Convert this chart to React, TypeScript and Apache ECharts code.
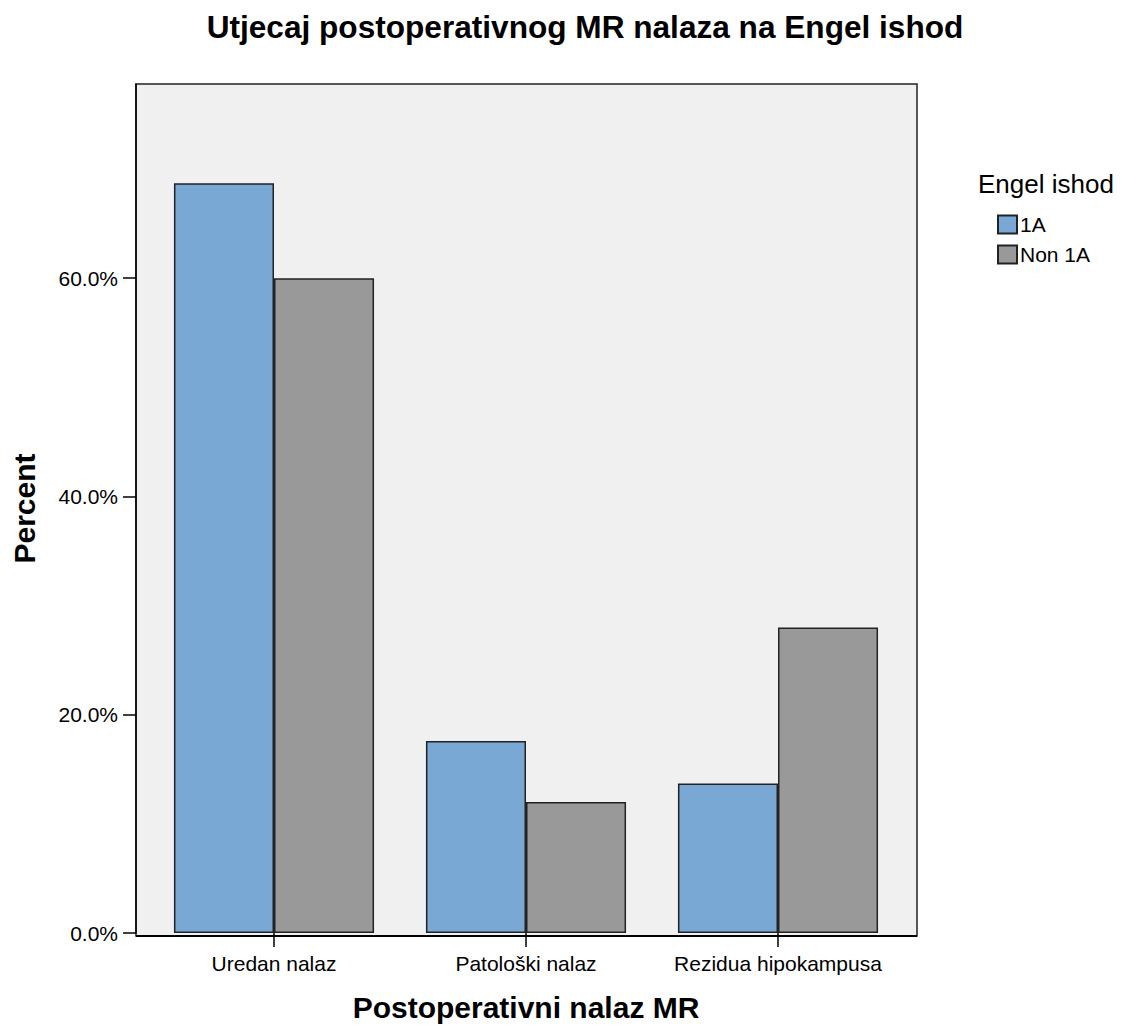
import React, { useEffect, useRef } from "react";
import * as echarts from "echarts";

const categories = ["Uredan nalaz", "Patološki nalaz", "Rezidua hipokampusa"];
const seriesNames = ["1A", "Non 1A"];
const values1A = [68.7, 17.6, 13.7];
const valuesNon1A = [60.0, 12.0, 28.0];
const yTicks = [0, 20, 40, 60];

const FONT = "Liberation Sans, Arial, sans-serif";

export default function App() {
  const ref = useRef<HTMLDivElement>(null);
  useEffect(() => {
    if (!ref.current) return;
    const chart = echarts.init(ref.current, undefined, { renderer: "svg" });
    chart.setOption({
      animation: false,
      backgroundColor: "#ffffff",
      textStyle: { fontFamily: FONT },
      title: {
        text: "Utjecaj postoperativnog MR nalaza na Engel ishod",
        left: 580,
        top: 6,
        textAlign: "center",
        textStyle: { fontSize: 31.6, fontWeight: "bold", color: "#000", fontFamily: FONT },
      },
      legend: {
        orient: "vertical",
        left: 997,
        top: 214,
        padding: 0,
        itemWidth: 19,
        itemHeight: 18,
        itemGap: 9,
        icon: "rect",
        textStyle: { fontSize: 21, color: "#000", fontFamily: FONT, padding: [0, 0, 0, -2] },
        data: seriesNames,
      },
      graphic: [
        {
          type: "rect",
          z: -1,
          shape: { x: 136, y: 84, width: 781, height: 852 },
          style: { fill: "#f0f0f0", stroke: "#222", lineWidth: 1.5 },
        },
        {
          type: "line",
          z: 10,
          shape: { x1: 136, y1: 936, x2: 917, y2: 936 },
          style: { stroke: "#000", lineWidth: 2 },
        },
        {
          type: "text",
          left: 978,
          top: 171,
          style: { text: "Engel ishod", fontSize: 26, fill: "#000", fontFamily: FONT },
        },
      ],
      grid: {
        left: 148,
        top: 84,
        width: 756,
        height: 852,
        show: false,
      },
      xAxis: {
        type: "category",
        data: categories,
        name: "Postoperativni nalaz MR",
        nameLocation: "middle",
        nameGap: 59,
        nameTextStyle: { fontSize: 30, fontWeight: "bold", color: "#000", fontFamily: FONT },
        axisLine: { show: false },
        axisTick: {
          show: true,
          interval: 0,
          alignWithLabel: true,
          length: 14,
          lineStyle: { color: "#000", width: 1.5 },
        },
        axisLabel: { interval: 0, fontSize: 21, color: "#000", margin: 20, fontFamily: FONT },
      },
      yAxis: {
        type: "value",
        min: 0,
        max: 77.8,
        interval: 20,
        offset: 12,
        name: "Percent",
        nameLocation: "middle",
        nameGap: 97,
        nameTextStyle: { fontSize: 30, fontWeight: "bold", color: "#000", fontFamily: FONT },
        splitLine: { show: false },
        axisLine: { show: true, lineStyle: { color: "#000", width: 1.5 } },
        axisTick: { show: true, length: 13, customValues: yTicks, lineStyle: { color: "#000", width: 1.5 } },
        axisLabel: {
          fontSize: 21,
          color: "#000",
          margin: 18,
          fontFamily: FONT,
          customValues: yTicks,
          formatter: (v: number) => v.toFixed(1) + "%",
        },
      },
      series: [
        {
          name: seriesNames[0],
          type: "bar",
          data: values1A,
          barGap: "0%",
          barCategoryGap: "20.6%",
          itemStyle: { color: "#7aa8d5", borderColor: "#222", borderWidth: 1.5 },
        },
        {
          name: seriesNames[1],
          type: "bar",
          data: valuesNon1A,
          barGap: "0%",
          barCategoryGap: "20.6%",
          itemStyle: { color: "#999999", borderColor: "#222", borderWidth: 1.5 },
        },
      ],
    });
    return () => chart.dispose();
  }, []);
  return (
    <div
      ref={ref}
      style={{ position: "fixed", left: 0, top: 0, width: 1121, height: 1027 }}
    />
  );
}
